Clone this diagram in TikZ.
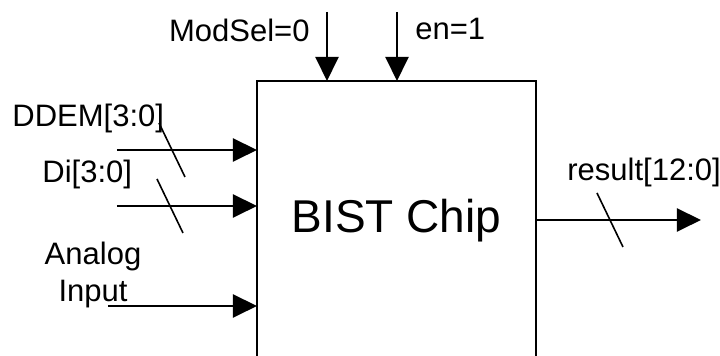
\documentclass[tikz,border=0pt]{standalone}
\usepackage{fontspec}
\setmainfont{Liberation Sans}
\usetikzlibrary{arrows.meta,positioning}
\tikzset{
  sig/.style={line width=1pt,-{Triangle[length=12pt,width=11.5pt]}},
  busmark/.style={line width=0.8pt},
  lbl/.style={inner sep=0pt,font=\fontsize{15.5}{18.5}\selectfont},
}
\begin{document}
\begin{tikzpicture}[x=0.5pt,y=-0.5pt]
\path[use as bounding box,clip] (0,0) rectangle (720,356);
% chip body, runs off the bottom edge
\node[draw,line width=1pt,minimum width=139.5pt,minimum height=170pt,
  anchor=north west,inner sep=0pt,outer sep=0pt] (chip) at (257,81) {};
\node[inner sep=0pt,font=\fontsize{23}{28}\selectfont,anchor=base] (chiptext) at (396.5,233) {BIST Chip};
% signal names
\node[lbl,anchor=base east] (modsellbl) at (310,42) {ModSel=0};
\node[lbl,anchor=base west] (enlbl) at (415,40) {en=1};
\node[lbl,anchor=base west] (ddemlbl) at (12,127) {DDEM[3:0]};
\node[lbl,anchor=base west] (dilbl) at (42,183) {Di[3:0]};
\node[lbl,align=center,anchor=north] (analoglbl) at (93,242) {Analog\\Input};
\node[lbl,anchor=base west] (resultlbl) at (567,181) {result[12:0]};
% free ends
\coordinate (modsel) at (327,12);
\coordinate (en) at (397,12);
\coordinate (ddem) at (117,150);
\coordinate (di) at (117,206);
\coordinate (analog) at (108,306);
\coordinate (result) at (701,220);
\draw[sig] (modsel) -- (modsel |- chip.north);
\draw[sig] (en) -- (en |- chip.north);
\draw[sig] (ddem) -- (ddem -| chip.west);
\draw[sig] (di) -- (di -| chip.west);
\draw[sig] (analog) -- (analog -| chip.west);
\draw[sig] (result -| chip.east) -- (result);
% bus width marks
\foreach \bx/\by in {172/150,170/206,610/220}
  \draw[busmark] (\bx,\by) ++(-13,-27) -- ++(26,54);
\end{tikzpicture}
\end{document}
